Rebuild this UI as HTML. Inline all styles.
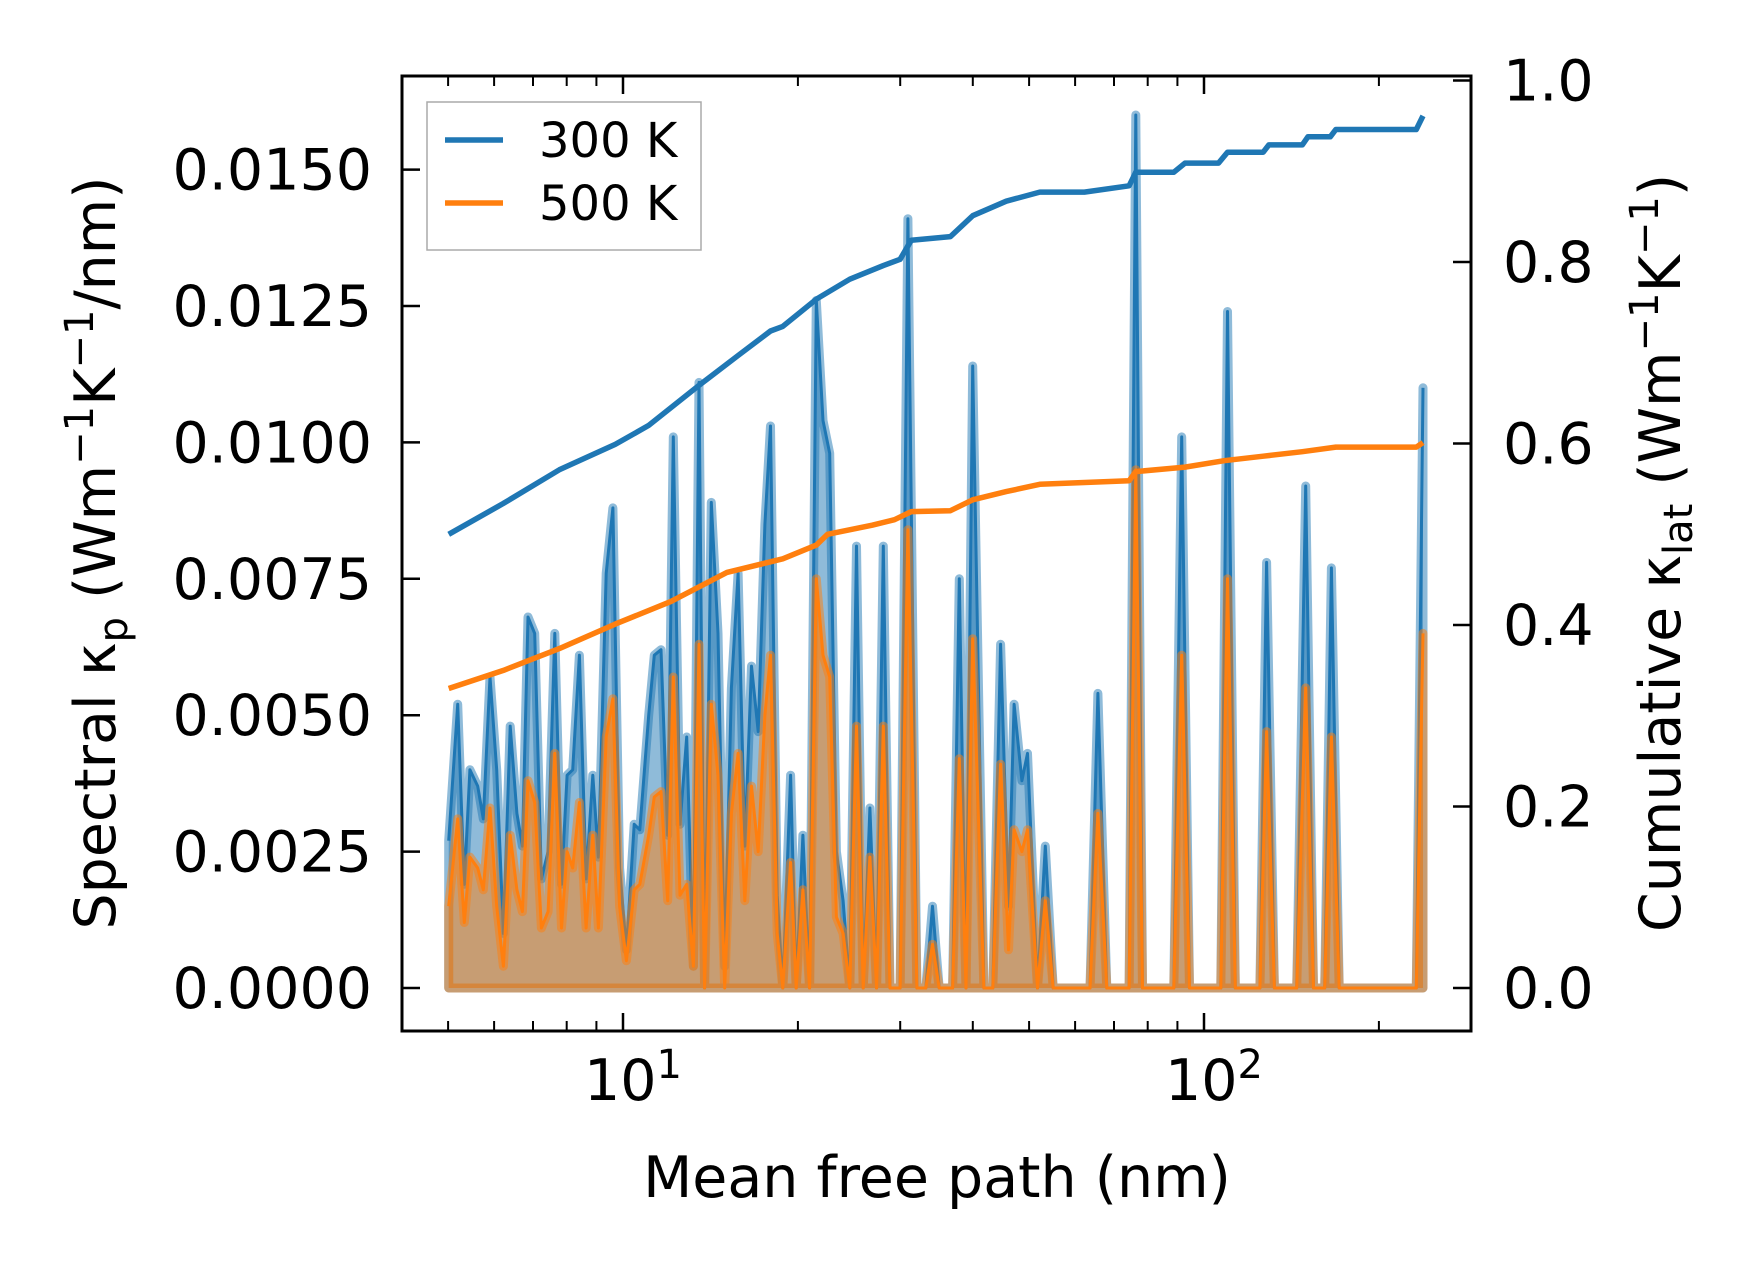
<!DOCTYPE html>
<html><head><meta charset="utf-8">
<style>
html,body{margin:0;padding:0;background:#fff;}
svg{display:block;font-family:"DejaVu Sans","Liberation Sans",sans-serif;}
</style></head>
<body>
<svg id="chart" width="1753" height="1270" viewBox="0 0 1753 1270" xmlns="http://www.w3.org/2000/svg">
<rect width="1753" height="1270" fill="#fff"/>
<defs><clipPath id="clip"><rect x="402" y="76" width="1069" height="955"/></clipPath></defs>
<g id="plot" clip-path="url(#clip)"></g>
<g id="axes"></g>
</svg>
<script>
// spectral data (pixel-read estimates converted via axes)
const specPx = [401,409,415,420,427,432,438,444,450,456,462,467,472,478,484,490,496,502,507,512,518,524,530,535,542,548,554,560,567,572,580,585,591,597,602,608,614,620,625,630,636,642,648,654,660,666,672,678,684,689,695,700,707,712,718,724,730,736,742,748,754,760,766,772,778,784,790,796,805,812,820,828,834,840,852,858,864,870,880,888,895,902,907,914,919,928,935,942,975,982,990,1010,1016,1022,1050,1057,1064,1092,1098,1105,1127,1133,1140,1160,1168,1175,1185,1191,1198,1267,1273];
const mfp = specPx.map(p => +Math.pow(10, 1 + (p - 557) / 520).toFixed(3));
const k300 = [0.0027,0.0052,0.0019,0.0040,0.0037,0.0031,0.0057,0.0040,0.0010,0.0048,0.0032,0.0026,0.0068,0.0065,0.0020,0.0025,0.0065,0.0019,0.0039,0.0040,0.0061,0.0020,0.0039,0.0024,0.0076,0.0088,0.0022,0.0007,0.0030,0.0029,0.0050,0.0061,0.0062,0.0028,0.0101,0.0030,0.0046,0.0004,0.0111,0,0.0089,0.0065,0.0004,0.0055,0.0076,0.0026,0.0059,0.0047,0.0085,0.0103,0.0017,0,0.0039,0,0.0028,0,0.0126,0.0104,0.0098,0.0025,0.0016,0,0.0081,0,0.0033,0,0.0081,0,0,0.0141,0,0,0.0015,0,0,0.0075,0,0.0114,0,0,0.0063,0.0015,0.0052,0.0038,0.0043,0,0.0026,0,0,0.0054,0,0,0.0160,0,0,0.0101,0,0,0.0124,0,0,0.0078,0,0,0.0092,0,0,0.0077,0,0,0.0110];
const k500 = [0.0015,0.0031,0.0012,0.0024,0.0022,0.0018,0.0033,0.0015,0.0004,0.0028,0.0018,0.0014,0.0038,0.0034,0.0011,0.0014,0.0043,0.0011,0.0025,0.0022,0.0034,0.0011,0.0028,0.0011,0.0046,0.0053,0.0015,0.0005,0.0018,0.0019,0.0028,0.0035,0.0036,0.0016,0.0057,0.0017,0.0019,0.0004,0.0063,0,0.0052,0.0039,0,0.0032,0.0043,0.0016,0.0037,0.0025,0.0050,0.0061,0.0010,0,0.0023,0,0.0018,0,0.0075,0.0061,0.0057,0.0013,0.0010,0,0.0048,0,0.0024,0,0.0048,0,0,0.0084,0,0,0.0008,0,0,0.0042,0,0.0064,0,0,0.0041,0.0007,0.0029,0.0025,0.0029,0,0.0016,0,0,0.0032,0,0,0.0095,0,0,0.0061,0,0,0.0075,0,0,0.0047,0,0,0.0055,0,0,0.0046,0,0,0.0065];
// cumulative data
const cumPx = [401,450,500,550,580,625,660,689,700,730,760,790,805,815,850,870,900,930,970,1010,1016,1050,1060,1090,1098,1130,1135,1165,1170,1190,1195,1267,1273];
const cumMfp = cumPx.map(p => +Math.pow(10, 1 + (p - 557) / 520).toFixed(3));
const cum300 = [0.50,0.534,0.571,0.599,0.62,0.664,0.697,0.724,0.729,0.759,0.781,0.796,0.803,0.824,0.828,0.851,0.867,0.877,0.877,0.884,0.899,0.899,0.909,0.909,0.921,0.921,0.929,0.929,0.938,0.938,0.946,0.946,0.961];
const cum500Px = [401,450,500,550,600,650,700,730,740,780,800,815,850,870,900,930,1010,1016,1060,1095,1130,1165,1195,1267,1273];
const cum500Mfp = cum500Px.map(p => +Math.pow(10, 1 + (p - 557) / 520).toFixed(3));
const cum500 = [0.330,0.350,0.374,0.401,0.426,0.458,0.473,0.488,0.50,0.51,0.516,0.525,0.526,0.538,0.547,0.555,0.559,0.569,0.574,0.581,0.586,0.591,0.596,0.596,0.601];
const leftTicks = [0,0.0025,0.005,0.0075,0.01,0.0125,0.015];
const leftLabels = ["0.0000","0.0025","0.0050","0.0075","0.0100","0.0125","0.0150"];
const rightTicks = [0,0.2,0.4,0.6,0.8,1.0];
const rightLabels = ["0.0","0.2","0.4","0.6","0.8","1.0"];

const L=402,R=1471,T=76,B=1031;
const X = v => 623 + 581*(Math.log10(v)-1);
const YL = v => 988 - v/0.0025*136.4;
const YR = v => 988 - v*907.5;
const NS="http://www.w3.org/2000/svg";
function mk(tag, attrs, parent){const e=document.createElementNS(NS,tag);for(const k in attrs)e.setAttribute(k,attrs[k]);parent.appendChild(e);return e;}
const plot=document.getElementById('plot'), axes=document.getElementById('axes');
const blue="#1f77b4", orange="#ff7f0e";

function spec(vals, color, name){
  let pts = mfp.map((m,i)=>X(m).toFixed(1)+","+YL(vals[i]).toFixed(1));
  const area = "M"+X(mfp[0]).toFixed(1)+","+YL(0)+" L"+pts.join(" L")+" L"+X(mfp[mfp.length-1]).toFixed(1)+","+YL(0)+" Z";
  const a=mk('path',{d:area,fill:color,'fill-opacity':0.5,stroke:color,'stroke-opacity':0.5,'stroke-width':9,'stroke-linejoin':'round'},plot);
  
  
  const l=mk('polyline',{points:pts.join(" "),fill:'none',stroke:color,'stroke-width':3,'stroke-linejoin':'round'},plot);
  
  
}
spec(k300, blue, 'spectral-300k');
spec(k500, orange, 'spectral-500k');
function cum(ms, vals, color, name){
  const pts = ms.map((m,i)=>X(m).toFixed(1)+","+YR(vals[i]).toFixed(1)).join(" ");
  const l=mk('polyline',{points:pts,fill:'none',stroke:color,'stroke-width':5.5,'stroke-linejoin':'round'},plot);
  
  
}
cum(cumMfp, cum300, blue, 'cumulative-300k');
cum(cum500Mfp, cum500, orange, 'cumulative-500k');

// frame
const fr=mk('rect',{x:L,y:T,width:R-L,height:B-T,fill:'none',stroke:'#000','stroke-width':3},axes);


leftTicks.forEach((v,i)=>{
  const y=YL(v);
  mk('line',{x1:L,x2:L+18,y1:y,y2:y,stroke:'#000','stroke-width':2.5},axes);
  const t=mk('text',{x:372,y:y+20,'text-anchor':'end','font-size':57,fill:'#000'},axes);
  t.textContent=leftLabels[i];
  
  
});
rightTicks.forEach((v,i)=>{
  const y=YR(v);
  mk('line',{x1:R-18,x2:R,y1:y,y2:y,stroke:'#000','stroke-width':2.5},axes);
  const t=mk('text',{x:1503,y:y+20,'text-anchor':'start','font-size':57,fill:'#000'},axes);
  t.textContent=rightLabels[i];
  
  
});
const minors=[5,6,7,8,9,20,30,40,50,60,70,80,90,200];
minors.forEach(v=>{const x=X(v);
  mk('line',{x1:x,x2:x,y1:B,y2:B-10,stroke:'#000','stroke-width':2},axes);
  mk('line',{x1:x,x2:x,y1:T,y2:T+10,stroke:'#000','stroke-width':2},axes);});
[[10,"1"],[100,"2"]].forEach(([v,e])=>{const x=X(v);
  mk('line',{x1:x,x2:x,y1:B,y2:B-18,stroke:'#000','stroke-width':2.5},axes);
  mk('line',{x1:x,x2:x,y1:T,y2:T+18,stroke:'#000','stroke-width':2.5},axes);
  const t=mk('text',{x:x+10,y:1100,'text-anchor':'middle','font-size':57,fill:'#000'},axes);
  t.innerHTML='10<tspan dy="-22" font-size="40">'+e+'</tspan>';
  
  
});
</script>
<svg style="position:absolute;left:0;top:0" width="1753" height="1270" xmlns="http://www.w3.org/2000/svg" font-family="DejaVu Sans, Liberation Sans, sans-serif">
<text x="937" y="1197" text-anchor="middle" font-size="57">Mean free path (nm)</text>
<text transform="translate(115,553) rotate(-90)" text-anchor="middle" font-size="57">Spectral κ<tspan font-size="40" dy="12">p</tspan><tspan dy="-12"> (Wm</tspan><tspan font-size="40" dy="-22">−1</tspan><tspan dy="22">K</tspan><tspan font-size="40" dy="-22">−1</tspan><tspan dy="22">/nm)</tspan></text>
<text transform="translate(1680,553) rotate(-90)" text-anchor="middle" font-size="57">Cumulative κ<tspan font-size="40" dy="12">lat</tspan><tspan dy="-12"> (Wm</tspan><tspan font-size="40" dy="-22">−1</tspan><tspan dy="22">K</tspan><tspan font-size="40" dy="-22">−1</tspan><tspan dy="22">)</tspan></text>
<g>
<rect x="427" y="102" width="274" height="148" fill="#fff" fill-opacity="0.8" stroke="#aaa" stroke-width="1.5"/>
<line x1="445" x2="503" y1="140" y2="140" stroke="#1f77b4" stroke-width="5.5"/>
<text x="539" y="157" font-size="48">300 K</text>
<line x1="445" x2="503" y1="203" y2="203" stroke="#ff7f0e" stroke-width="5.5"/>
<text x="539" y="220" font-size="48">500 K</text>
</g>
</svg>
</body></html>
